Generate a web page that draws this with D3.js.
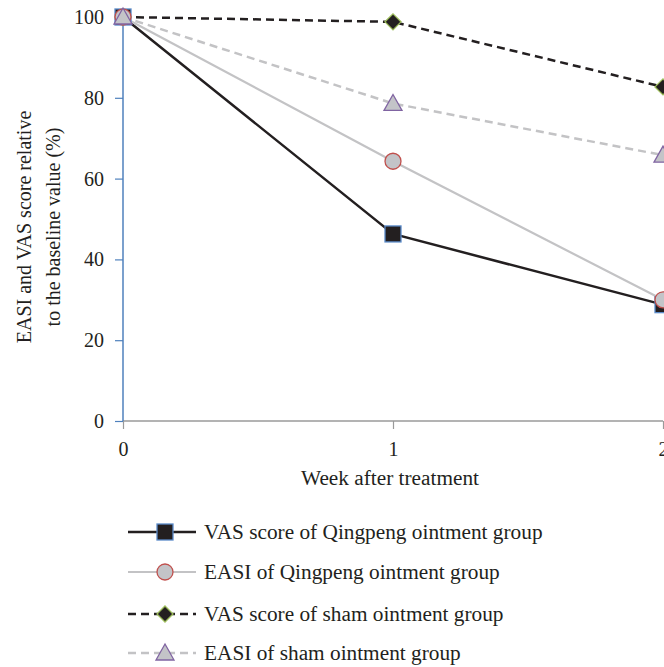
<!DOCTYPE html>
<html><head><meta charset="utf-8">
<script src="https://cdn.jsdelivr.net/npm/d3@7"></script>
<style>body{margin:0;background:#fff}svg{display:block}</style>
</head><body>
<script>
const weeks = [0, 1, 2];
const vasQingpeng = [100, 46.3, 28.8];
const easiQingpeng = [100, 64.3, 30.0];
const vasSham = [100, 98.8, 82.7];
const easiSham = [100, 78.6, 65.8];
const yTicks = [0, 20, 40, 60, 80, 100];
const seriesNames = ["VAS score of Qingpeng ointment group","EASI of Qingpeng ointment group","VAS score of sham ointment group","EASI of sham ointment group"];

const W = 664, H = 667;
const font = "'Liberation Serif', 'DejaVu Serif', serif";
const fs = "20px", fsBig = "21.3px";
const svg = d3.select("body").append("svg").attr("width", W).attr("height", H);
const x = d3.scaleLinear().domain([0, 2]).range([123, 663]);
const y = d3.scaleLinear().domain([0, 100]).range([421, 17]);

const series = [
  {name: seriesNames[0], vals: vasQingpeng, line: "#231f20", w: 2.5, dash: null, shape: "square", fill: "#231f20", stroke: "#5b8bc9"},
  {name: seriesNames[1], vals: easiQingpeng, line: "#c3c3c5", w: 2.2, dash: null, shape: "circle", fill: "#c3c4c8", stroke: "#c0504d"},
  {name: seriesNames[2], vals: vasSham, line: "#231f20", w: 2.5, dash: "8,5", shape: "diamond", fill: "#231f20", stroke: "#9bbb59"},
  {name: seriesNames[3], vals: easiSham, line: "#c3c3c5", w: 2.5, dash: "8,5", shape: "triangle", fill: "#c3c4c8", stroke: "#8064a2"}
];

// axes
const xAxis = svg.append("g").attr("transform", `translate(0,${y(0)})`)
  .call(d3.axisBottom(x).tickValues(weeks).tickFormat(d3.format("d")).tickSize(8).tickPadding(13));
xAxis.select(".domain").attr("stroke", "#9a9a9a").attr("stroke-width", 1.5).attr("d", `M${x(0)},0H${x(2)}`);
xAxis.selectAll(".tick line").attr("stroke", "#9a9a9a").attr("stroke-width", 1.2);
xAxis.selectAll("text").attr("fill", "#231f20").style("font-family", font).style("font-size", fs);

const yAxis = svg.append("g").attr("transform", `translate(${x(0)},0)`)
  .call(d3.axisLeft(y).tickValues(yTicks).tickSize(8).tickPadding(11));
yAxis.select(".domain").attr("stroke", "#4f81bd").attr("stroke-width", 1.5).attr("d", `M0,${y(0)}V${y(100)}`);
yAxis.selectAll(".tick line").attr("stroke", "#4f81bd").attr("stroke-width", 1.2);
yAxis.selectAll("text").attr("fill", "#231f20").style("font-family", font).style("font-size", fs);

// titles
svg.append("text").attr("x", 390).attr("y", 485).attr("text-anchor", "middle")
  .style("font-family", font).style("font-size", fsBig).attr("fill", "#231f20").text("Week after treatment");
const yt = svg.append("text").attr("transform", "translate(0,227) rotate(-90)").attr("text-anchor", "middle")
  .style("font-family", font).style("font-size", fs).attr("fill", "#231f20");
yt.append("tspan").attr("x", 0).attr("y", 31).text("EASI and VAS score relative");
yt.append("tspan").attr("x", 0).attr("y", 60).text("to the baseline value (%)");

function marker(g, shape, cx, cy, s) {
  if (shape === "square") {
    g.append("rect").attr("x", cx - 8).attr("y", cy - 8).attr("width", 16).attr("height", 16)
      .attr("fill", s.fill).attr("stroke", s.stroke).attr("stroke-width", 1.3);
  } else if (shape === "circle") {
    g.append("circle").attr("cx", cx).attr("cy", cy).attr("r", 8)
      .attr("fill", s.fill).attr("stroke", s.stroke).attr("stroke-width", 1.3);
  } else if (shape === "diamond") {
    g.append("path").attr("d", `M${cx},${cy-8}L${cx+8},${cy}L${cx},${cy+8}L${cx-8},${cy}Z`)
      .attr("fill", s.fill).attr("stroke", s.stroke).attr("stroke-width", 1.3);
  } else {
    g.append("path").attr("d", `M${cx},${cy-9}L${cx+9},${cy+7}L${cx-9},${cy+7}Z`)
      .attr("fill", s.fill).attr("stroke", s.stroke).attr("stroke-width", 1.3);
  }
}

const line = d3.line().x((d, i) => x(weeks[i])).y(d => y(d));
series.forEach(s => {
  svg.append("path").datum(s.vals).attr("d", line).attr("fill", "none")
    .attr("stroke", s.line).attr("stroke-width", s.w).attr("stroke-dasharray", s.dash);
});
[0, 2, 1, 3].forEach(k => {
  const s = series[k];
  const g = svg.append("g");
  s.vals.forEach((v, i) => marker(g, s.shape, x(weeks[i]), y(v), s));
});

// legend
const lg = svg.append("g");
series.forEach((s, i) => {
  const ly = [532, 572, 614, 653][i];
  lg.append("line").attr("x1", 128).attr("x2", 196).attr("y1", ly).attr("y2", ly)
    .attr("stroke", s.line).attr("stroke-width", s.w).attr("stroke-dasharray", s.dash);
  marker(lg, s.shape, 165, ly, s);
  lg.append("text").attr("x", 204).attr("y", ly + 7).style("font-family", font).style("font-size", fsBig)
    .attr("fill", "#231f20").text(s.name);
});
</script>
</body></html>
